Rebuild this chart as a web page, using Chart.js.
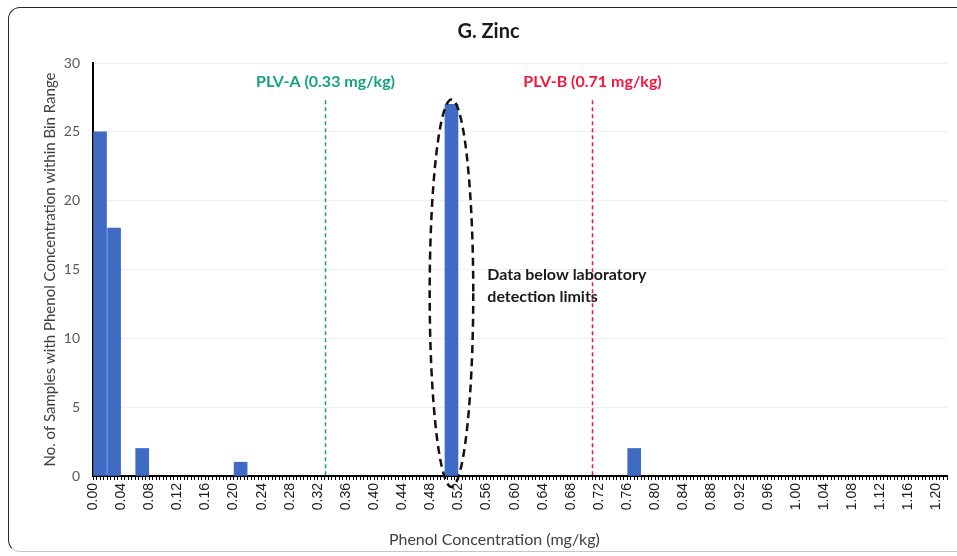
<!DOCTYPE html>
<html>
<head>
<meta charset="utf-8">
<title>G. Zinc</title>
<script src="https://cdn.jsdelivr.net/npm/chart.js@4.4.1/dist/chart.umd.min.js"></script>
<style>
  html, body { margin: 0; padding: 0; background: #fff; overflow: hidden; }
  #wrap { position: relative; width: 957px; height: 556px; }
  #graph { position: absolute; left: 0; top: 0; }
  /* cadre arrondi autour du graphique */
  #cadre { position: absolute; left: 8px; top: 7px; width: 975px; height: 543px;
           border: 1.5px solid #262626; border-bottom-color: #c6c6c6;
           border-radius: 12px; pointer-events: none; }
</style>
</head>
<body>
<div id="wrap">
  <canvas id="graph" width="957" height="556"></canvas>
  <div id="cadre"></div>
</div>
<script>
// classes de 0.02 mg/kg : milieu de chaque classe et nombre d'echantillons
const binCentres = [0.01, 0.03, 0.07, 0.21, 0.51, 0.77]
const sampleCounts = [25, 18, 2, 1, 27, 2]

// valeurs limites
const plvA = 0.33
const plvB = 0.71

const xLabelStep = 0.04   // une etiquette toutes les 0.04
const xTickStep = 0.005   // petits traits sur l'axe
const yTickStep = 5

const police = 'Lato, "Open Sans", sans-serif'

// lignes PLV, ellipse autour des donnees sous la limite de detection, textes
const reperes = {
  id: 'reperes',
  afterDatasetsDraw(chart) {
    const ctx = chart.ctx
    const x = chart.scales.x
    const y = chart.scales.y
    const yHaut = y.getPixelForValue(27.3)
    const yBas = y.getPixelForValue(0)

    ctx.save()
    ctx.lineWidth = 1.5
    ctx.setLineDash([4, 3])
    const lignes = [
      {val: plvA, nom: 'PLV-A', couleur: '#14a37f'},
      {val: plvB, nom: 'PLV-B', couleur: '#f5163c'}
    ]
    lignes.forEach(l => {
      const px = Math.round(x.getPixelForValue(l.val)) + 0.5
      ctx.strokeStyle = l.couleur
      ctx.beginPath()
      ctx.moveTo(px, yHaut)
      ctx.lineTo(px, yBas)
      ctx.stroke()
      ctx.fillStyle = l.couleur
      ctx.font = 'bold 16px ' + police
      ctx.textAlign = 'center'
      ctx.textBaseline = 'middle'
      ctx.fillText(l.nom + ' (' + l.val.toFixed(2) + ' mg/kg)', px, y.getPixelForValue(28.6))
    })

    // ellipse en tirets autour de la classe 0.50-0.52
    const cx = x.getPixelForValue(0.51)
    const rx = x.getPixelForValue(0.541) - cx
    const top = y.getPixelForValue(27.35)
    const bot = y.getPixelForValue(-0.8)
    ctx.strokeStyle = '#111'
    ctx.lineWidth = 2.5
    ctx.setLineDash([8, 5])
    ctx.beginPath()
    ctx.ellipse(cx, (top + bot) / 2, rx, (bot - top) / 2, 0, 0, Math.PI * 2)
    ctx.stroke()

    ctx.fillStyle = '#1a1a1a'
    ctx.font = 'bold 16px ' + police
    ctx.textAlign = 'left'
    ctx.textBaseline = 'middle'
    ctx.fillText('Data below laboratory', x.getPixelForValue(0.561), y.getPixelForValue(14.6))
    ctx.fillText('detection limits', x.getPixelForValue(0.561), y.getPixelForValue(13.0))

    // titre de l'axe x, un peu a gauche du centre de la zone
    const area = chart.chartArea
    ctx.fillStyle = '#404040'
    ctx.font = '16px ' + police
    ctx.textAlign = 'center'
    ctx.fillText('Phenol Concentration (mg/kg)', area.left + area.width * 0.47, x.bottom - 12)
    ctx.restore()
  }
}

new Chart(document.getElementById('graph'), {
  type: 'bar',
  data: {
    datasets: [{
      label: 'Zinc',
      data: binCentres.map((c, i) => ({x: c, y: sampleCounts[i]})),
      backgroundColor: '#3f6bc4',
      barThickness: 13
    }]
  },
  options: {
    responsive: false,
    animation: false,
    layout: {padding: {left: 30, right: 10, top: 8, bottom: 4}},
    plugins: {
      legend: {display: false},
      tooltip: {enabled: false},
      title: {
        display: true,
        text: 'G. Zinc',
        color: '#1a1a1a',
        font: {family: police, size: 20, weight: 'bold'},
        padding: {top: 12, bottom: 19}
      }
    },
    scales: {
      x: {
        type: 'linear',
        min: 0,
        max: 1.215,
        offset: false,
        grid: {drawOnChartArea: false, drawTicks: true, tickLength: 4, color: '#000', offset: false},
        border: {color: '#000', width: 2},
        ticks: {
          stepSize: xTickStep,
          autoSkip: false,
          includeBounds: false,
          minRotation: 90,
          maxRotation: 90,
          padding: 3,
          color: '#1a1a1a',
          font: {family: '"Liberation Sans", Arial, sans-serif', size: 14},
          callback: v => Math.round(v * 1000) % Math.round(xLabelStep * 1000) === 0 ? v.toFixed(2) : ''
        },
        afterFit: s => {
          s.height = 76
          // pas de marge supplementaire pour les etiquettes tournees aux extremites
          s.paddingLeft = 0
          s.paddingRight = 0
        }
      },
      y: {
        min: 0,
        max: 30,
        grid: {color: '#efefef', drawTicks: false},
        border: {color: '#000', width: 2},
        ticks: {
          stepSize: yTickStep,
          padding: 13,
          color: '#595959',
          font: {family: police, size: 14}
        },
        title: {
          display: true,
          text: 'No. of Samples with Phenol Concentration within Bin Range',
          color: '#404040',
          font: {family: police, size: 15},
          padding: {top: 11, bottom: 4}
        },
        afterFit: s => { s.width = 63 }
      }
    }
  },
  plugins: [reperes]
})
</script>
</body>
</html>
